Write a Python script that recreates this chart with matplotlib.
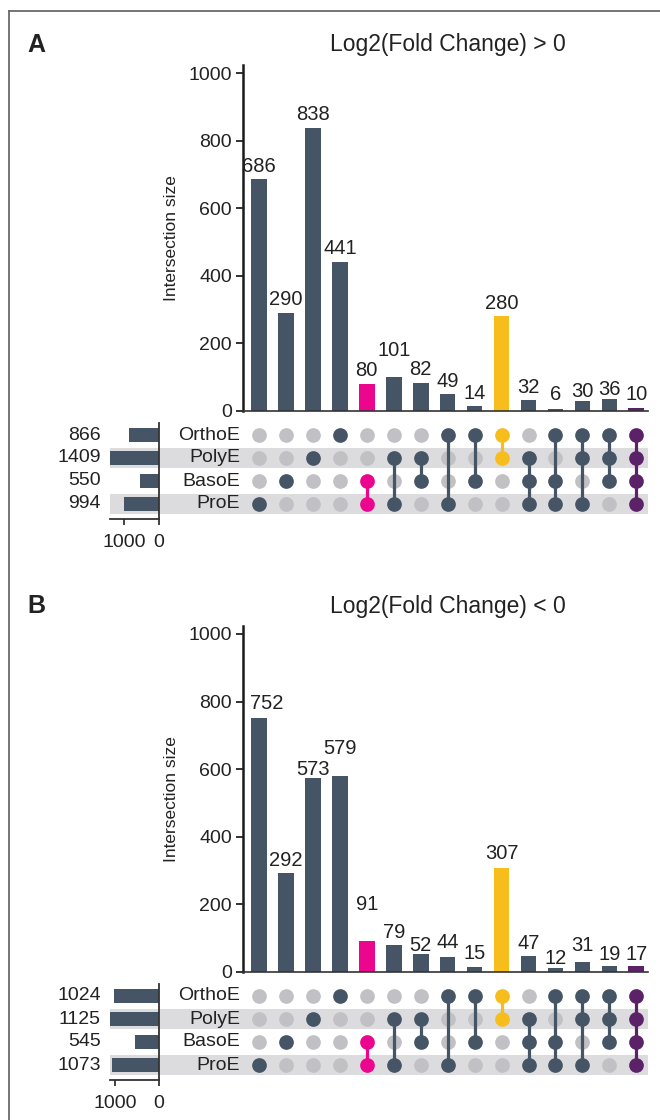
import matplotlib
matplotlib.use("Agg")
import matplotlib.pyplot as plt
from matplotlib.lines import Line2D

# ---------------- data ----------------
sets = ["ProE", "BasoE", "PolyE", "OrthoE"]  # bottom to top in matrix
# membership of each intersection column (names of active sets)
combos = [
    ["ProE"], ["BasoE"], ["PolyE"], ["OrthoE"],
    ["ProE", "BasoE"], ["ProE", "PolyE"], ["BasoE", "PolyE"],
    ["ProE", "OrthoE"], ["BasoE", "OrthoE"], ["PolyE", "OrthoE"],
    ["ProE", "BasoE", "PolyE"], ["ProE", "BasoE", "OrthoE"],
    ["ProE", "PolyE", "OrthoE"], ["BasoE", "PolyE", "OrthoE"],
    ["ProE", "BasoE", "PolyE", "OrthoE"],
]
up_sizes = [686, 290, 838, 441, 80, 101, 82, 49, 14, 280, 32, 6, 30, 36, 10]
down_sizes = [752, 292, 573, 579, 91, 79, 52, 44, 15, 307, 47, 12, 31, 19, 17]
up_set_sizes = {"OrthoE": 866, "PolyE": 1409, "BasoE": 550, "ProE": 994}
down_set_sizes = {"OrthoE": 1024, "PolyE": 1125, "BasoE": 545, "ProE": 1073}
titles = ["Log2(Fold Change) > 0", "Log2(Fold Change) < 0"]
panel_letters = ["A", "B"]

# ---------------- style ----------------
DARK = "#455565"
PINK = "#EC068D"
YELLOW = "#F6BD1C"
PURPLE = "#5C2268"
GREY_DOT = "#C1C0C5"
BAND = "#DCDCDE"
col_colors = [DARK] * 15
col_colors[4] = PINK
col_colors[9] = YELLOW
col_colors[14] = PURPLE

# label nudges (pixels above bar top, x shift pixels)
up_lab_dy = [13, 13, 13, 13, 13, 26, 14, 13, 13, 13, 13, 14, 9, 9, 13]
up_lab_dx = [0] * 15
down_lab_dy = [14, 13, 9, 28, 37, 13, 9, 15, 13, 15, 13, 9, 16, 11, 12]
down_lab_dx = [8] + [0] * 14

W, H = 660, 1120
fig = plt.figure(figsize=(W / 100, H / 100), dpi=100)
FONT = ["Liberation Sans", "DejaVu Sans"]
plt.rcParams["font.family"] = FONT


def add_ax(x0, y0, x1, y1, **kw):
    return fig.add_axes([x0 / W, 1 - y1 / H, (x1 - x0) / W, (y1 - y0) / H], **kw)


def ftext(x, y, s, **kw):
    fig.text(x / W, 1 - y / H, s, **kw)


# frame
fig.add_artist(Line2D([9 / W, 9 / W], [0, 1 - 11 / H], color="#6a6a6a", lw=1.3))
fig.add_artist(Line2D([9 / W, 1], [1 - 11 / H, 1 - 11 / H], color="#6a6a6a", lw=1.3))

X0 = 259.0
DX = 26.95
ROW_Y = {"OrthoE": 435, "PolyE": 458, "BasoE": 481, "ProE": 504}
ROW_H = 23.0


def px2col(px):
    return (px - X0) / DX


panels = [
    (0, up_sizes, up_set_sizes, up_lab_dy, up_lab_dx),
    (561, down_sizes, down_set_sizes, down_lab_dy, down_lab_dx),
]

for p, (off, sizes, ssizes, ldy, ldx) in enumerate(panels):
    # ---- titles ----
    ftext(448, 45 + off, titles[p], ha="center", va="center", fontsize=16.5,
          color="#222222")
    ftext(27, 45 + off, panel_letters[p], ha="left", va="center", fontsize=18,
          fontweight="bold", color="#222222")

    # ---- intersection bars ----
    y_top, y_zero = 65 + off, 411 + off
    axb = add_ax(243, y_top, 648, y_zero)
    ppu = 338.0 / 1000.0
    axb.set_xlim(px2col(243), px2col(648))
    axb.set_ylim(0, (y_zero - y_top) / ppu)
    xs = list(range(len(sizes)))
    axb.bar(xs, sizes, width=0.58, color=col_colors, zorder=2)
    for i, v in enumerate(sizes):
        ftext(X0 + DX * i + ldx[i], y_zero - v * ppu - ldy[i], str(v),
              ha="center", va="center", fontsize=14.5, color="#222222")
    axb.set_yticks([0, 200, 400, 600, 800, 1000])
    axb.tick_params(axis="y", length=5, width=1.3, labelsize=14, pad=3,
                    colors="#222222")
    axb.set_xticks([])
    for s in ["top", "right"]:
        axb.spines[s].set_visible(False)
    axb.spines["left"].set_linewidth(1.8)
    axb.spines["left"].set_color("#1a1a1a")
    axb.spines["bottom"].set_linewidth(1.2)
    axb.spines["bottom"].set_color("#333333")
    axb.patch.set_alpha(0)
    ftext(172, 238 + off, "Intersection size", rotation=90, ha="center",
          va="center", fontsize=12.5, color="#222222")

    # ---- matrix ----
    m_top, m_bot = 420 + off, 520 + off
    axm = add_ax(110, m_top, 648, m_bot)
    yrow = {s: (504 - ROW_Y[s]) / ROW_H for s in sets}
    axm.set_xlim(px2col(110), px2col(648))
    axm.set_ylim(-(m_bot - (504 + off)) / ROW_H, 3 + ((435 + off) - m_top) / ROW_H)
    axm.axis("off")
    for s in ["ProE", "PolyE"]:
        axm.axhspan(yrow[s] - 0.45, yrow[s] + 0.45, color=BAND, lw=0, zorder=0)
    for s in sets:
        axm.text(px2col(240), yrow[s], s, ha="right", va="center", fontsize=14,
                 color="#222222")
    for i, combo in enumerate(combos):
        active = [yrow[s] for s in combo]
        inactive = [yrow[s] for s in sets if s not in combo]
        axm.scatter([i] * len(inactive), inactive, s=112, color=GREY_DOT,
                    lw=0, zorder=2)
        if len(active) > 1:
            axm.plot([i, i], [min(active), max(active)], color=col_colors[i],
                     lw=2.3, zorder=3, solid_capstyle="butt")
        axm.scatter([i] * len(active), active, s=112, color=col_colors[i],
                    lw=0, zorder=4)

    # ---- set size bars ----
    s_top, s_bot = 423 + off, 519 + off
    axs = add_ax(110, s_top, 159, s_bot)
    axs.patch.set_alpha(0)
    axs.set_ylim(-(s_bot - (504 + off)) / ROW_H, 3 + ((435 + off) - s_top) / ROW_H)
    maxv = max(ssizes.values())
    axs.set_xlim(maxv, 0)
    axs.barh([yrow[s] for s in sets], [ssizes[s] for s in sets], height=0.6,
             color=DARK, zorder=2)
    axs.set_yticks([])
    axs.set_xticks([1000, 0])
    axs.tick_params(axis="x", length=4, width=1.2, labelsize=14, pad=7,
                    colors="#222222")
    axs.spines["top"].set_visible(False)
    axs.spines["left"].set_visible(False)
    axs.spines["right"].set_linewidth(1.3)
    axs.spines["right"].set_color("#333333")
    axs.spines["bottom"].set_linewidth(1.3)
    axs.spines["bottom"].set_color("#333333")
    for s in sets:
        ftext(101, ROW_Y[s] + off, str(ssizes[s]), ha="right", va="center",
              fontsize=14, color="#222222")

fig.savefig("out.png", dpi=100)
